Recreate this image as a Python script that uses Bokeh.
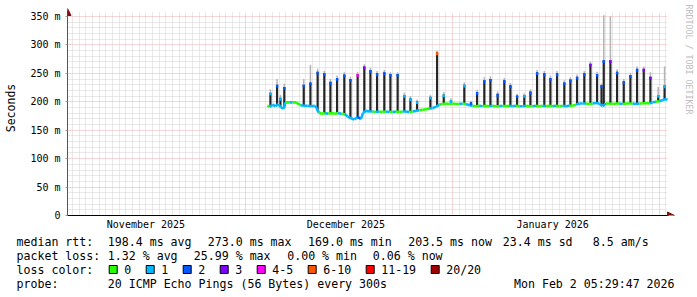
import numpy as np
import pandas as pd
from bokeh.plotting import figure
from bokeh.layouts import column
from bokeh.models import (Range1d, FixedTicker, Grid, Arrow, NormalHead, Label,
                          ColumnDataSource, DatetimeTickFormatter)
from bokeh.embed import file_html
from bokeh.resources import INLINE
from bokeh.core.properties import value

MONO = "DejaVu Sans Mono"

# ---------------- data ----------------
x_start = "2025-11-04 05:29:47"
x_end = "2026-02-02 05:29:47"
y_max = 357

y_ticks = [0, 50, 100, 150, 200, 250, 300, 350]
y_tick_labels = ["0", "50 m", "100 m", "150 m", "200 m", "250 m", "300 m", "350 m"]
month_starts = ["2025-12-01", "2026-01-01", "2026-02-01"]
month_label_at = ["2025-11-16", "2025-12-16", "2026-01-16"]
month_labels = ["November 2025", "December 2025", "January 2026"]

loss_labels = ["0", "1", "2", "3", "4-5", "6-10", "11-19", "20/20"]
loss_colors = ["#26ff00", "#00b8ff", "#0059ff", "#7e00ff", "#ff00ff", "#ff5500", "#ff0000", "#a10000"]

# median rtt (ms) with loss bucket index
median_time = [
    "2025-12-04 05:00", "2025-12-04 14:00", "2025-12-05 00:00", "2025-12-05 10:00", "2025-12-05 20:00",
    "2025-12-06 06:00", "2025-12-06 16:00", "2025-12-06 22:00", "2025-12-07 12:00", "2025-12-08 00:00",
    "2025-12-08 12:00", "2025-12-09 04:00", "2025-12-09 16:00", "2025-12-10 06:00", "2025-12-10 18:00",
    "2025-12-11 08:00", "2025-12-11 14:00", "2025-12-11 22:00", "2025-12-12 08:00", "2025-12-12 20:00",
    "2025-12-13 08:00", "2025-12-13 20:00", "2025-12-14 08:00", "2025-12-14 20:00", "2025-12-15 08:00",
    "2025-12-15 20:00", "2025-12-16 06:00", "2025-12-16 18:00", "2025-12-17 06:00", "2025-12-17 18:00",
    "2025-12-18 06:00", "2025-12-18 14:00", "2025-12-19 00:00", "2025-12-19 12:00", "2025-12-20 00:00",
    "2025-12-20 12:00", "2025-12-21 00:00", "2025-12-21 12:00", "2025-12-22 00:00", "2025-12-22 12:00",
    "2025-12-23 00:00", "2025-12-23 12:00", "2025-12-24 00:00", "2025-12-24 12:00", "2025-12-25 00:00",
    "2025-12-25 12:00", "2025-12-26 00:00", "2025-12-26 12:00", "2025-12-27 00:00", "2025-12-27 12:00",
    "2025-12-28 00:00", "2025-12-28 12:00", "2025-12-29 00:00", "2025-12-29 12:00", "2025-12-30 00:00",
    "2025-12-30 12:00", "2025-12-31 00:00", "2025-12-31 12:00", "2026-01-01 00:00", "2026-01-01 12:00",
    "2026-01-02 00:00", "2026-01-02 12:00", "2026-01-03 00:00", "2026-01-03 12:00", "2026-01-04 00:00",
    "2026-01-04 12:00", "2026-01-05 00:00", "2026-01-05 12:00", "2026-01-06 00:00", "2026-01-06 12:00",
    "2026-01-07 00:00", "2026-01-07 12:00", "2026-01-08 00:00", "2026-01-08 12:00", "2026-01-09 00:00",
    "2026-01-09 12:00", "2026-01-10 00:00", "2026-01-10 12:00", "2026-01-11 00:00", "2026-01-11 12:00",
    "2026-01-12 00:00", "2026-01-12 12:00", "2026-01-13 00:00", "2026-01-13 12:00", "2026-01-14 00:00",
    "2026-01-14 12:00", "2026-01-15 00:00", "2026-01-15 12:00", "2026-01-16 00:00", "2026-01-16 12:00",
    "2026-01-17 00:00", "2026-01-17 12:00", "2026-01-18 00:00", "2026-01-18 12:00", "2026-01-19 00:00",
    "2026-01-19 12:00", "2026-01-20 00:00", "2026-01-20 12:00", "2026-01-21 00:00", "2026-01-21 12:00",
    "2026-01-22 00:00", "2026-01-22 12:00", "2026-01-23 00:00", "2026-01-23 12:00", "2026-01-24 00:00",
    "2026-01-24 12:00", "2026-01-25 00:00", "2026-01-25 12:00", "2026-01-26 00:00", "2026-01-26 12:00",
    "2026-01-27 00:00", "2026-01-27 12:00", "2026-01-28 00:00", "2026-01-28 12:00", "2026-01-29 00:00",
    "2026-01-29 12:00", "2026-01-30 00:00", "2026-01-30 12:00", "2026-01-31 00:00", "2026-01-31 12:00",
    "2026-02-01 00:00", "2026-02-01 12:00", "2026-02-02 00:00", "2026-02-02 05:00",
]
median_ms = [
    193, 191, 195, 192, 196, 190, 188, 199, 199, 199,
    199, 194, 193, 193, 192, 193, 189, 181, 179, 180,
    179, 180, 179, 180, 179, 178, 174, 171, 169, 173,
    170, 181, 184, 183, 183, 182, 183, 182, 183, 182,
    182, 183, 182, 183, 183, 182, 183, 184, 185, 186,
    187, 188, 189, 191, 195, 196, 197, 196, 197, 196,
    196, 197, 196, 194, 193, 192, 193, 192, 193, 192,
    193, 192, 192, 193, 192, 193, 192, 193, 192, 192,
    193, 192, 192, 193, 192, 193, 192, 193, 192, 193,
    192, 193, 192, 193, 193, 195, 197, 197, 197, 196,
    197, 198, 197, 192, 197, 197, 196, 197, 197, 196,
    197, 197, 197, 196, 197, 197, 198, 197, 199, 200,
    201, 203, 205, 203.5,
]
median_loss = [
    0, 1, 1, 1, 1, 1, 1, 0, 1, 0,
    0, 1, 1, 1, 1, 1, 1, 0, 0, 1,
    0, 0, 0, 1, 0, 1, 1, 1, 1, 2,
    1, 1, 1, 1, 0, 1, 0, 0, 1, 0,
    1, 0, 0, 1, 1, 0, 1, 1, 0, 0,
    0, 1, 1, 1, 0, 0, 0, 0, 0, 0,
    1, 0, 1, 1, 0, 0, 1, 0, 0, 1,
    0, 0, 1, 0, 0, 1, 1, 0, 1, 1,
    0, 0, 1, 0, 0, 1, 0, 0, 1, 0,
    0, 1, 1, 0, 0, 1, 1, 1, 0, 0,
    1, 1, 1, 1, 0, 0, 0, 0, 1, 0,
    0, 0, 1, 1, 0, 0, 0, 1, 1, 0,
    1, 1, 1, 1,
]

# daily latency spikes: top of the dark smoke bar, loss bucket at the tip, lighter smoke above
spike_time = [
    "2025-12-04 16:00", "2025-12-05 16:00", "2025-12-06 04:00", "2025-12-06 18:00",
    "2025-12-09 16:00", "2025-12-10 16:00", "2025-12-11 18:00", "2025-12-12 18:00",
    "2025-12-13 16:00", "2025-12-14 16:00", "2025-12-15 18:00", "2025-12-16 16:00",
    "2025-12-17 18:00", "2025-12-18 18:00", "2025-12-19 16:00", "2025-12-20 16:00",
    "2025-12-21 18:00", "2025-12-22 16:00", "2025-12-23 18:00", "2025-12-24 18:00",
    "2025-12-25 16:00", "2025-12-26 16:00", "2025-12-28 16:00", "2025-12-29 16:00",
    "2025-12-30 16:00", "2025-12-31 18:00", "2026-01-02 18:00", "2026-01-03 18:00",
    "2026-01-04 16:00", "2026-01-05 18:00", "2026-01-06 16:00", "2026-01-07 18:00",
    "2026-01-08 18:00", "2026-01-09 16:00", "2026-01-10 16:00", "2026-01-11 18:00",
    "2026-01-12 16:00", "2026-01-13 16:00", "2026-01-14 18:00", "2026-01-15 16:00",
    "2026-01-16 16:00", "2026-01-17 18:00", "2026-01-18 16:00", "2026-01-19 16:00",
    "2026-01-20 18:00", "2026-01-21 16:00", "2026-01-22 16:00", "2026-01-23 08:00",
    "2026-01-23 16:00", "2026-01-24 16:00", "2026-01-25 16:00", "2026-01-26 16:00",
    "2026-01-27 16:00", "2026-01-28 16:00", "2026-01-29 16:00", "2026-01-30 16:00",
    "2026-01-31 20:00", "2026-02-01 19:00",
]
spike_ms = [
    216, 230, 207, 226, 230, 234, 253, 250, 235, 242, 248, 240,
    249, 262, 256, 250, 252, 249, 249, 212, 206, 201, 209, 287,
    213, 203, 230, 199, 217, 238, 240, 214, 238, 229, 211, 212,
    218, 252, 250, 242, 250, 234, 239, 244, 250, 267, 249, 229,
    273, 273, 253, 236, 247, 258, 258, 244, 212, 229,
]
spike_loss = [
    1, 2, 1, 2, 2, 2, 2, 2, 2, 2, 2, 2,
    4, 3, 2, 2, 2, 2, 2, 1, 1, 1, 1, 5,
    1, 1, 1, 2, 2, 2, 2, 2, 2, 2, 2, 1,
    2, 2, 2, 2, 2, 2, 2, 2, 2, 3, 2, 2,
    2, 3, 2, 2, 2, 2, 3, 3, 1, 1,
]
smoke_ms = [
    222, 240, 212, 232, 240, 265, 258, 254, 240, 246, 252, 244,
    253, 266, 260, 254, 256, 252, 252, 216, 210, 204, 212, 290,
    217, 206, 234, 202, 221, 243, 245, 218, 242, 233, 214, 215,
    222, 256, 254, 246, 254, 238, 243, 248, 254, 271, 253, 232,
    352, 350, 257, 240, 251, 262, 262, 252, 226, 262,
]

rtt_stats = ["198.4 ms avg", "273.0 ms max", "169.0 ms min", "203.5 ms now", "23.4 ms sd", "8.5   am/s"]
loss_stats = ["1.32 % avg", "25.99 % max", "0.00 % min", "0.06 % now"]
probe_text = "20 ICMP Echo Pings (56 Bytes) every 300s"
stamp_text = "Mon Feb  2 05:29:47 2026"

# ---------------- layout constants ----------------
W = 697
H_MAIN = 234
G_L, G_R, G_T, G_B = 67, 667, 12, 215      # graph area (data window)
ARROW_C = "#7f1010"
GRID_MINOR = "#d2d2d2"
GRID_MAJOR = "#e8b0b0"

T0 = pd.Timestamp(x_start)
T1 = pd.Timestamp(x_end)
t0_ms = T0.value / 1e6
t1_ms = T1.value / 1e6
span_ms = t1_ms - t0_ms


def px_x(px):
    return t0_ms + (px - G_L) / (G_R - G_L) * span_ms


def px_y(py):
    return (G_B - py) / (G_B - G_T) * y_max


def ms_of(s):
    return pd.Timestamp(s).value / 1e6


# frame covers the graph area plus the right margin and top strip (for arrows/watermark)
p = figure(width=W, height=H_MAIN, x_axis_type="datetime",
           x_range=Range1d(t0_ms, px_x(W)), y_range=Range1d(0, px_y(0)),
           output_backend="svg", toolbar_location=None,
           min_border_left=G_L, min_border_right=0,
           min_border_top=0, min_border_bottom=H_MAIN - G_B)
p.frame_align = False
p.outline_line_color = None
p.background_fill_color = "white"
p.border_fill_color = "white"
p.xgrid.visible = False
p.ygrid.visible = False

# grids
day_ticks = [d.value / 1e6 for d in pd.date_range("2025-11-05", "2026-02-02", freq="D")
             if d.day != 1]
minor_y = [v for v in range(10, 360, 10) if v % 50 != 0]
p.add_layout(Grid(dimension=0, ticker=FixedTicker(ticks=day_ticks), cross_bounds=(0, y_max),
                  grid_line_color=GRID_MINOR, grid_line_dash="1 1"))
p.add_layout(Grid(dimension=1, ticker=FixedTicker(ticks=minor_y), cross_bounds=(t0_ms, t1_ms),
                  grid_line_color=GRID_MINOR, grid_line_dash="1 1"))
p.add_layout(Grid(dimension=0, ticker=FixedTicker(ticks=[ms_of(m) for m in month_starts]),
                  cross_bounds=(px_y(218), y_max),
                  grid_line_color=GRID_MAJOR, grid_line_dash="1 1"))
p.add_layout(Grid(dimension=1, ticker=FixedTicker(ticks=[v for v in y_ticks if v > 0]),
                  cross_bounds=(t0_ms, t1_ms),
                  grid_line_color=GRID_MAJOR, grid_line_dash="1 1"))

# y axis
p.yaxis.ticker = FixedTicker(ticks=y_ticks, minor_ticks=[])
p.yaxis.bounds = (px_y(218), px_y(10))
p.yaxis.major_label_overrides = {t: l for t, l in zip(y_ticks, y_tick_labels)}
p.yaxis.major_label_text_font = MONO
p.yaxis.major_label_text_font_size = "10px"
p.yaxis.major_label_text_color = "#000000"
p.yaxis.major_tick_out = 2
p.yaxis.major_tick_in = 0
p.yaxis.minor_tick_out = 0
p.yaxis.minor_tick_in = 0
p.yaxis.major_tick_line_color = "#999999"
p.yaxis.minor_tick_line_color = None
p.yaxis.major_label_standoff = 5
p.yaxis.axis_line_color = "#555555"
p.yaxis.axis_label = "Seconds"
p.yaxis.axis_label_text_font = MONO
p.yaxis.axis_label_text_font_size = "11.5px"
p.yaxis.axis_label_text_font_style = "normal"
p.yaxis.axis_label_text_color = "#000000"
p.yaxis.axis_label_standoff = 9

# x axis
p.xaxis.ticker = FixedTicker(ticks=[ms_of(m) for m in month_label_at], minor_ticks=[])
p.xaxis.bounds = (t0_ms, px_x(668))
fmt = "%B %Y"
p.xaxis.formatter = DatetimeTickFormatter(days=fmt, months=fmt, years=fmt, hours=fmt,
                                          hourmin=fmt, minutes=fmt, minsec=fmt, seconds=fmt,
                                          milliseconds=fmt, microseconds=fmt)
p.xaxis.major_label_text_font = MONO
p.xaxis.major_label_text_font_size = "10px"
p.xaxis.major_label_text_color = "#000000"
p.xaxis.major_tick_out = 0
p.xaxis.major_tick_in = 0
p.xaxis.minor_tick_out = 0
p.xaxis.minor_tick_in = 0
p.xaxis.major_tick_line_color = None
p.xaxis.minor_tick_line_color = None
p.xaxis.major_label_standoff = 3
p.xaxis.axis_line_color = "#000000"

# data
mt = pd.to_datetime(median_time)
st = pd.to_datetime(spike_time)
base_at_spike = np.interp(st.values.astype("int64"), mt.values.astype("int64"), median_ms)

spikes = ColumnDataSource(dict(
    t=st, base=base_at_spike, top=spike_ms, smoke=smoke_ms,
    tip0=np.array(spike_ms) - 5,
    tipc=[loss_colors[i] for i in spike_loss],
))
p.segment(x0="t", y0="top", x1="t", y1="smoke", source=spikes,
          line_color="#b4b4b4", line_width=1.5)
p.segment(x0="t", y0="base", x1="t", y1="top", source=spikes,
          line_color="#262626", line_width=2.2)

med = ColumnDataSource(dict(
    x0=mt[:-1], x1=mt[1:], y0=median_ms[:-1], y1=median_ms[1:],
    c=[loss_colors[i] for i in median_loss[:-1]],
))
p.segment(x0="x0", y0="y0", x1="x1", y1="y1", source=med, line_color="c",
          line_width=2.6)
p.segment(x0="t", y0="tip0", x1="t", y1="top", source=spikes,
          line_color="tipc", line_width=2.4)

# axis arrows
p.add_layout(Arrow(end=NormalHead(size=7, fill_color=ARROW_C, line_color=ARROW_C),
                   x_start=t0_ms, y_start=px_y(20), x_end=t0_ms, y_end=px_y(8),
                   line_alpha=0))
p.add_layout(Arrow(end=NormalHead(size=7, fill_color=ARROW_C, line_color=ARROW_C),
                   x_start=px_x(660), y_start=0, x_end=px_x(674), y_end=0,
                   line_alpha=0))

# watermark
p.add_layout(Label(x=px_x(688), y=px_y(4), text="RRDTOOL / TOBI OETIKER",
                   angle=-np.pi / 2, text_align="left", text_baseline="middle",
                   text_font=MONO, text_font_size="8.3px", text_color="#bdbdbd"))

# ---------------- legend block ----------------
H_LEG = 297 - H_MAIN
q = figure(width=W, height=H_LEG, x_range=Range1d(0, W), y_range=Range1d(297, H_MAIN),
           output_backend="svg", toolbar_location=None, min_border=0,
           x_axis_location=None, y_axis_location=None)
q.frame_align = False
q.outline_line_color = None
q.xgrid.visible = False
q.ygrid.visible = False
q.background_fill_color = "white"
q.border_fill_color = "white"

row_y = [241.5, 255, 269, 283]
texts, tx, ty, talign = [], [], [], []


def put(s, x, y, align="left"):
    texts.append(s); tx.append(x); ty.append(y); talign.append(align)


put("median rtt:", 16, row_y[0])
for s, x in zip(rtt_stats, [107.3, 207.3, 307.5, 407.7, 502.3, 592.3]):
    put(s, x, row_y[0])
put("packet loss:", 16, row_y[1])
for s, x in zip(loss_stats, [107.3, 193.3, 286.7, 372.3]):
    put(s, x, row_y[1])
put("loss color:", 16, row_y[2])
sq_x = []
cur = 108.7
for lab in loss_labels:
    sq_x.append(cur + 4)
    put(lab, cur + 15, row_y[2])
    cur = cur + 15 + 7 * len(lab) + 15
put("probe:", 16, row_y[3])
put(probe_text, 107.3, row_y[3])
put(stamp_text, 681, row_y[3], "right")

q.text(x=tx, y=ty, text=texts, text_align=talign, text_baseline="middle",
       text_font=value(MONO), text_font_size=value("11.6px"), text_color="#000000")
q.rect(x=sq_x, y=[row_y[2]] * len(sq_x), width=8, height=8,
       fill_color=loss_colors, line_color="#000000", line_width=1)

open("out.html", "w").write(file_html(column(p, q), INLINE))
